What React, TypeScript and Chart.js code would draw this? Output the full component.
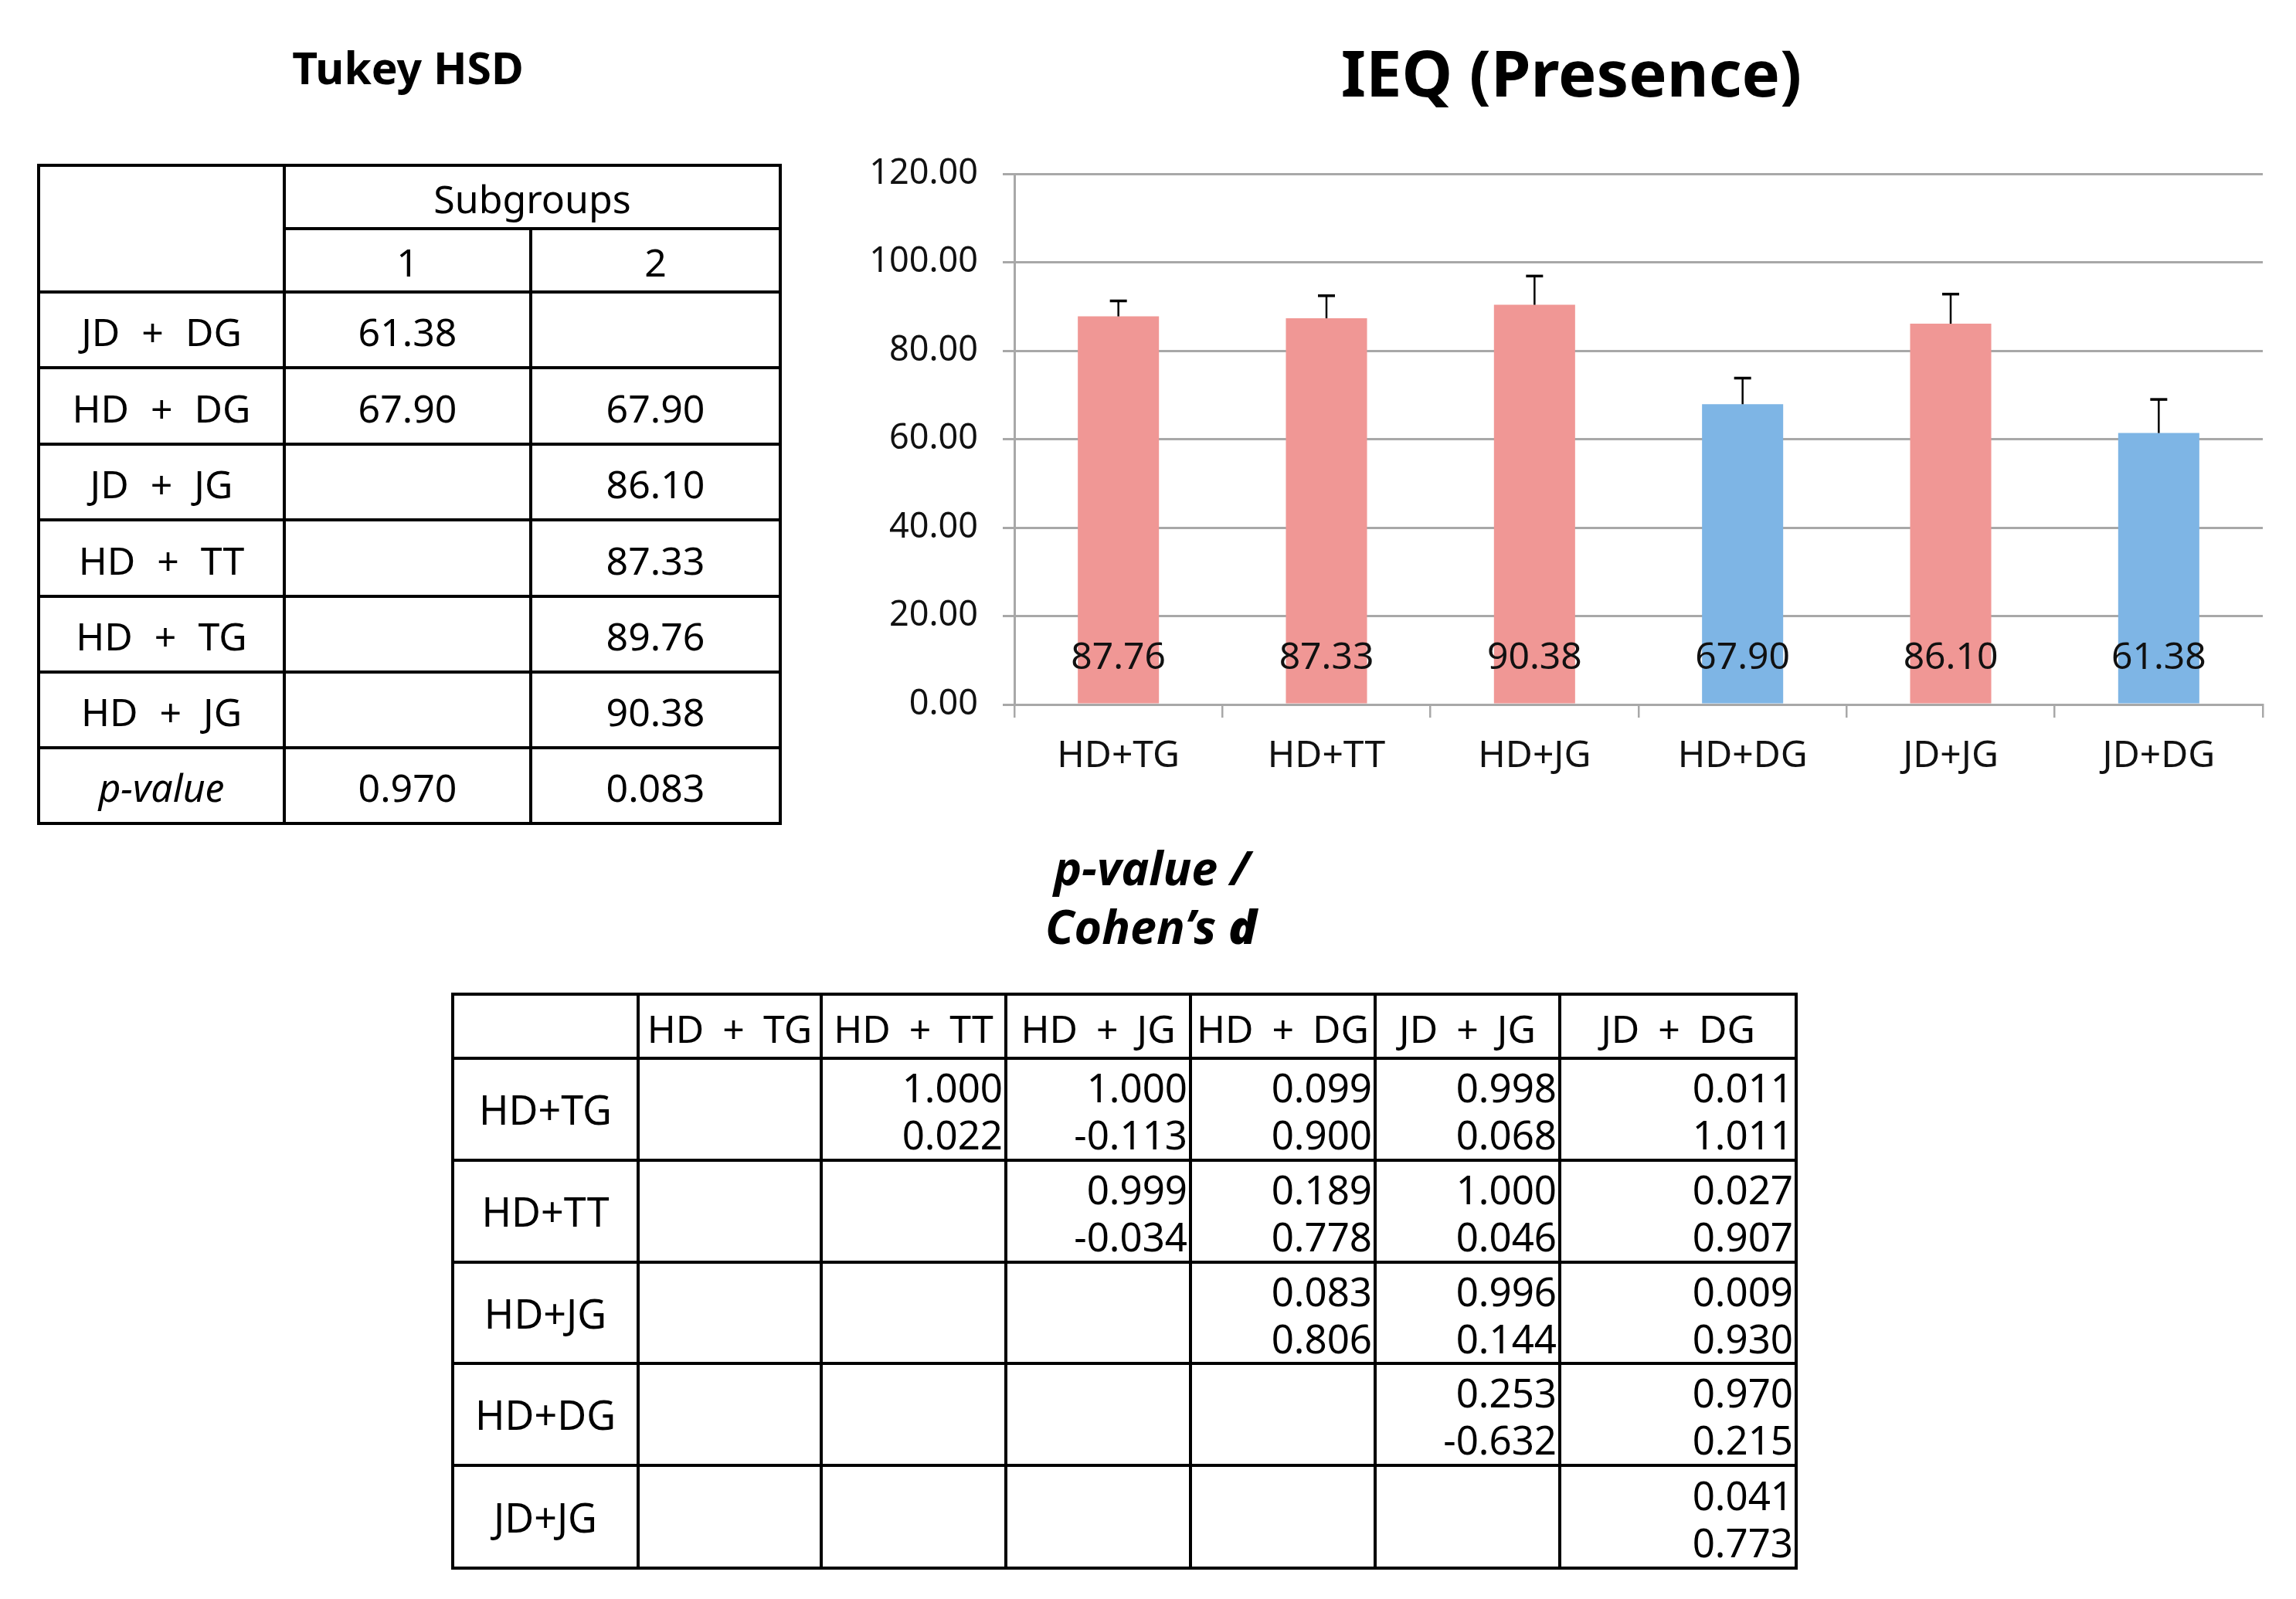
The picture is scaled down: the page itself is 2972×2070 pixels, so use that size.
import React, { useEffect, useRef } from 'react';
import { Chart, registerables } from 'chart.js';

Chart.register(...registerables);

// ---------- Data ----------
const categories = ['HD+TG', 'HD+TT', 'HD+JG', 'HD+DG', 'JD+JG', 'JD+DG'];
const means = [87.76, 87.33, 90.38, 67.9, 86.1, 61.38];
const sdUpper = [3.5, 5.1, 6.5, 5.9, 6.7, 7.6];
const subgroupOf = [2, 2, 2, 1, 2, 1];
const yTickValues = [0, 20, 40, 60, 80, 100, 120];

const tukeyRows = ['JD + DG', 'HD + DG', 'JD + JG', 'HD + TT', 'HD + TG', 'HD + JG'];
const tukeySub1 = ['61.38', '67.90', '', '', '', ''];
const tukeySub2 = ['', '67.90', '86.10', '87.33', '89.76', '90.38'];
const tukeyP = ['0.970', '0.083'];

const pairCols = ['HD + TG', 'HD + TT', 'HD + JG', 'HD + DG', 'JD + JG', 'JD + DG'];
const pairRows = ['HD+TG', 'HD+TT', 'HD+JG', 'HD+DG', 'JD+JG'];
const pValues = [
  ['', '1.000', '1.000', '0.099', '0.998', '0.011'],
  ['', '', '0.999', '0.189', '1.000', '0.027'],
  ['', '', '', '0.083', '0.996', '0.009'],
  ['', '', '', '', '0.253', '0.970'],
  ['', '', '', '', '', '0.041'],
];
const cohensD = [
  ['', '0.022', '-0.113', '0.900', '0.068', '1.011'],
  ['', '', '-0.034', '0.778', '0.046', '0.907'],
  ['', '', '', '0.806', '0.144', '0.930'],
  ['', '', '', '', '-0.632', '0.215'],
  ['', '', '', '', '', '0.773'],
];

// ---------- Styles ----------
const FONT = '"Noto Sans", "Noto Sans CJK KR", sans-serif';
const PINK = '#F09795';
const BLUE = '#7EB5E5';
const GRID = '#A8A8A8';

const overlayPlugin = {
  id: 'errorAndLabels',
  afterDatasetsDraw(chart: any) {
    const ctx = chart.ctx;
    const meta = chart.getDatasetMeta(0);
    const y = chart.scales.y;
    ctx.save();
    ctx.strokeStyle = '#000';
    meta.data.forEach((bar: any, i: number) => {
      const top = y.getPixelForValue(means[i] + sdUpper[i]);
      ctx.lineWidth = 2.5;
      ctx.beginPath();
      ctx.moveTo(bar.x, bar.y);
      ctx.lineTo(bar.x, top);
      ctx.stroke();
      ctx.lineWidth = 3.5;
      ctx.beginPath();
      ctx.moveTo(bar.x - 11, top);
      ctx.lineTo(bar.x + 11, top);
      ctx.stroke();
    });
    ctx.fillStyle = '#111';
    ctx.font = `48px ${FONT}`;
    ctx.textAlign = 'center';
    ctx.textBaseline = 'middle';
    const base = y.getPixelForValue(0);
    meta.data.forEach((bar: any, i: number) => {
      ctx.fillText(means[i].toFixed(2), bar.x, base - 60);
    });
    ctx.restore();
  },
};

function BarChart() {
  const ref = useRef<HTMLCanvasElement | null>(null);
  useEffect(() => {
    if (!ref.current) return;
    const chart = new Chart(ref.current, {
      type: 'bar',
      data: {
        labels: categories,
        datasets: [
          {
            data: means,
            backgroundColor: subgroupOf.map((g) => (g === 1 ? BLUE : PINK)),
            borderWidth: 0,
            categoryPercentage: 1,
            barPercentage: 0.39,
          },
        ],
      },
      options: {
        animation: false,
        responsive: false,
        devicePixelRatio: 1,
        layout: { padding: { top: 40, right: 43, bottom: 0, left: 0 } },
        plugins: { legend: { display: false }, tooltip: { enabled: false }, title: { display: false } },
        scales: {
          x: {
            offset: true,
            grid: { offset: true, drawOnChartArea: false, drawTicks: true, tickLength: 17, color: GRID, lineWidth: 2.5 },
            border: { display: true, color: GRID, width: 3 },
            ticks: { font: { family: FONT, size: 48 }, color: '#111', padding: 22, maxRotation: 0 },
            afterFit: (s: any) => {
              s.height = 148;
            },
          },
          y: {
            min: 0,
            max: 120,
            afterBuildTicks: (s: any) => {
              s.ticks = yTickValues.map((v) => ({ value: v }));
            },
            grid: { color: GRID, lineWidth: 3, tickLength: 15 },
            border: { display: true, color: GRID, width: 3 },
            ticks: {
              font: { family: FONT, size: 45 },
              color: '#111',
              padding: 32,
              callback: (v: any) => Number(v).toFixed(2),
            },
            afterFit: (s: any) => {
              s.width = 213;
            },
          },
        },
      },
      plugins: [overlayPlugin],
    });
    return () => chart.destroy();
  }, []);
  return (
    <canvas
      ref={ref}
      width={1872}
      height={894}
      style={{ position: 'absolute', left: 1100, top: 166, width: 1872, height: 894 }}
    />
  );
}

const BW = 4;
function Cell(props: {
  x0: number;
  x1: number;
  y0: number;
  y1: number;
  children?: any;
  align?: 'center' | 'right';
  style?: any;
}) {
  const { x0, x1, y0, y1, children, align = 'center', style } = props;
  return (
    <div
      style={{
        position: 'absolute',
        left: x0 - BW / 2,
        top: y0 - BW / 2,
        width: x1 - x0 + BW,
        height: y1 - y0 + BW,
        border: `${BW}px solid #000`,
        boxSizing: 'border-box',
        display: 'flex',
        alignItems: 'center',
        justifyContent: align === 'right' ? 'flex-end' : 'center',
        ...style,
      }}
    >
      {children}
    </div>
  );
}

function TukeyTable() {
  const cx = [50, 368, 687, 1010];
  const ry = [214, 296, 378, 476, 575, 673, 772, 870, 968, 1066];
  const txt = { fontSize: 50, lineHeight: 1, wordSpacing: 15, paddingTop: 4 };
  const cells: any[] = [];
  cells.push(<Cell key="tl" x0={cx[0]} x1={cx[1]} y0={ry[0]} y1={ry[2]} />);
  cells.push(
    <Cell key="sg" x0={cx[1]} x1={cx[3]} y0={ry[0]} y1={ry[1]}>
      <span style={txt}>Subgroups</span>
    </Cell>
  );
  cells.push(
    <Cell key="h1" x0={cx[1]} x1={cx[2]} y0={ry[1]} y1={ry[2]}>
      <span style={txt}>1</span>
    </Cell>
  );
  cells.push(
    <Cell key="h2" x0={cx[2]} x1={cx[3]} y0={ry[1]} y1={ry[2]}>
      <span style={txt}>2</span>
    </Cell>
  );
  tukeyRows.forEach((r, i) => {
    const y0 = ry[2 + i];
    const y1 = ry[3 + i];
    cells.push(
      <Cell key={'r' + i} x0={cx[0]} x1={cx[1]} y0={y0} y1={y1}>
        <span style={txt}>{r}</span>
      </Cell>
    );
    cells.push(
      <Cell key={'a' + i} x0={cx[1]} x1={cx[2]} y0={y0} y1={y1}>
        <span style={txt}>{tukeySub1[i]}</span>
      </Cell>
    );
    cells.push(
      <Cell key={'b' + i} x0={cx[2]} x1={cx[3]} y0={y0} y1={y1}>
        <span style={txt}>{tukeySub2[i]}</span>
      </Cell>
    );
  });
  const yp0 = ry[8];
  const yp1 = ry[9];
  cells.push(
    <Cell key="p" x0={cx[0]} x1={cx[1]} y0={yp0} y1={yp1}>
      <span style={{ ...txt, fontStyle: 'italic' }}>p-value</span>
    </Cell>
  );
  cells.push(
    <Cell key="p1" x0={cx[1]} x1={cx[2]} y0={yp0} y1={yp1}>
      <span style={txt}>{tukeyP[0]}</span>
    </Cell>
  );
  cells.push(
    <Cell key="p2" x0={cx[2]} x1={cx[3]} y0={yp0} y1={yp1}>
      <span style={txt}>{tukeyP[1]}</span>
    </Cell>
  );
  return <>{cells}</>;
}

function PairTable() {
  const cx = [586, 826, 1063, 1302, 1541, 1780, 2019, 2325];
  const ry = [1287, 1370, 1502, 1634, 1765, 1897, 2030];
  const cells: any[] = [];
  cells.push(<Cell key="tl" x0={cx[0]} x1={cx[1]} y0={ry[0]} y1={ry[1]} />);
  pairCols.forEach((c, j) => {
    cells.push(
      <Cell key={'h' + j} x0={cx[j + 1]} x1={cx[j + 2]} y0={ry[0]} y1={ry[1]}>
        <span style={{ fontSize: 50, lineHeight: 1, wordSpacing: 11, whiteSpace: 'nowrap', paddingTop: 4 }}>{c}</span>
      </Cell>
    );
  });
  pairRows.forEach((r, i) => {
    cells.push(
      <Cell key={'r' + i} x0={cx[0]} x1={cx[1]} y0={ry[i + 1]} y1={ry[i + 2]}>
        <span style={{ fontSize: 52, lineHeight: 1 }}>{r}</span>
      </Cell>
    );
    pairCols.forEach((_, j) => {
      const p = pValues[i][j];
      const d = cohensD[i][j];
      cells.push(
        <Cell
          key={'v' + i + '_' + j}
          x0={cx[j + 1]}
          x1={cx[j + 2]}
          y0={ry[i + 1]}
          y1={ry[i + 2]}
          align="right"
          style={{ paddingRight: 2, paddingTop: 4 }}
        >
          {p !== '' && (
            <div style={{ fontSize: 51, lineHeight: '61px', textAlign: 'right' }}>
              <div>{p}</div>
              <div>{d}</div>
            </div>
          )}
        </Cell>
      );
    });
  });
  return <>{cells}</>;
}

function Label(props: { x: number; y: number; children: any; style?: any }) {
  return (
    <div
      style={{
        position: 'absolute',
        left: props.x,
        top: props.y,
        transform: 'translate(-50%, -50%)',
        whiteSpace: 'nowrap',
        lineHeight: 1,
        ...props.style,
      }}
    >
      {props.children}
    </div>
  );
}

export default function App() {
  return (
    <div
      style={{
        position: 'absolute',
        left: 0,
        top: 0,
        width: 2972,
        height: 2070,
        background: '#fff',
        color: '#000',
        fontFamily: FONT,
        overflow: 'hidden',
      }}
    >
      <Label x={528} y={87} style={{ fontSize: 57, fontWeight: 700 }}>
        Tukey HSD
      </Label>
      <Label x={2034} y={92} style={{ fontSize: 83, fontWeight: 700 }}>
        IEQ (Presence)
      </Label>
      <Label x={1491} y={1122} style={{ fontSize: 61, fontWeight: 700, fontStyle: 'italic' }}>
        p-value /
      </Label>
      <Label x={1490} y={1198} style={{ fontSize: 61, fontWeight: 700, fontStyle: 'italic' }}>
        Cohen’s <span style={{ fontWeight: 900 }}>d</span>
      </Label>
      <TukeyTable />
      <BarChart />
      <PairTable />
    </div>
  );
}
